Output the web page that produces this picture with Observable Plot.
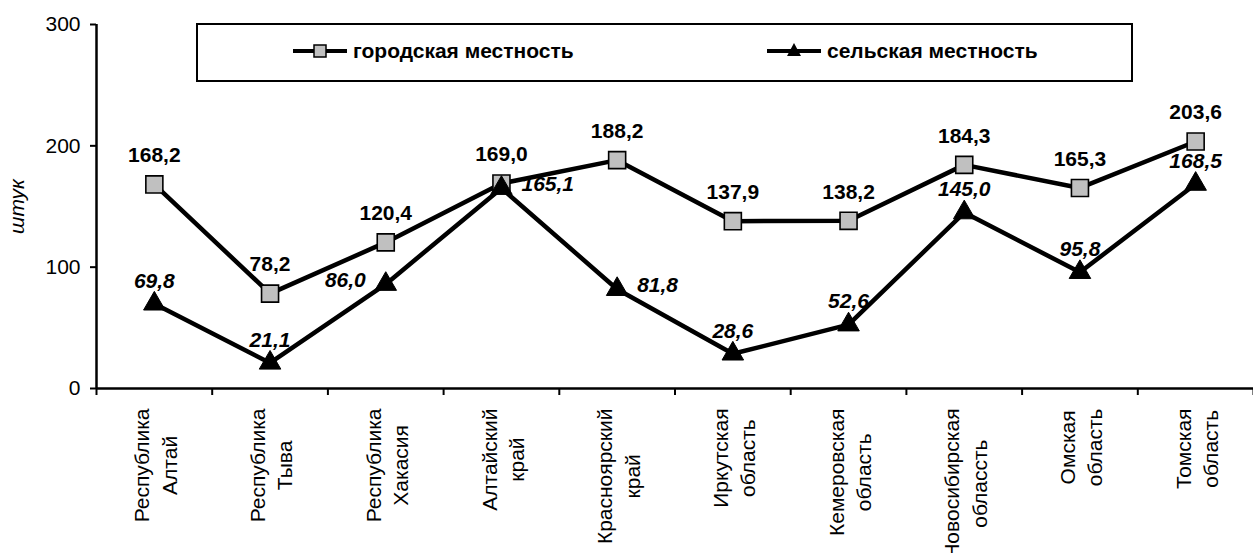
<!DOCTYPE html>
<html>
<head>
<meta charset="utf-8">
<script src="https://cdn.jsdelivr.net/npm/d3@7"></script>
<script src="https://cdn.jsdelivr.net/npm/@observablehq/plot@0.6"></script>
<style>
  html, body { margin: 0; padding: 0; background: #fff; }
  #wrap { position: relative; width: 1253px; height: 553px; overflow: hidden;
          font-family: "Liberation Sans", Arial, sans-serif; color: #000; }
  #legend { position: absolute; left: 196px; top: 23px; width: 937px; height: 59px;
            box-sizing: border-box; border: 2px solid #000; background: #fff; }
  .item { position: absolute; top: 0; height: 52px; display: flex; align-items: center; }
  .item svg { display: block; }
  .item span { font-weight: bold; font-size: 21px; margin-left: 6px; white-space: nowrap; }
</style>
</head>
<body>
<div id="wrap">
  <div id="chart"></div>
  <div id="legend"></div>
</div>
<script>
// ---- data ----
const categories = [
  "Республика\nАлтай",
  "Республика\nТыва",
  "Республика\nХакасия",
  "Алтайский\nкрай",
  "Красноярский\nкрай",
  "Иркутская\nобласть",
  "Кемеровская\nобласть",
  "Новосибирская\nоблассть",
  "Омская\nобласть",
  "Томская\nобласть"
];
const urban = [168.2, 78.2, 120.4, 169.0, 188.2, 137.9, 138.2, 184.3, 165.3, 203.6];
const rural = [69.8, 21.1, 86.0, 165.1, 81.8, 28.6, 52.6, 145.0, 95.8, 168.5];
const seriesNames = ["городская местность", "сельская местность"];
const yTicks = [0, 100, 200, 300];
const yLabel = "штук";
// where each rural value label sits relative to its marker
const ruralLabelPlacement = ["top", "top", "left", "right", "right", "top", "top", "top", "top", "top"];

// ---- build rows ----
const urbanData = categories.map((c, i) => ({i, cat: c, v: urban[i]}));
const ruralData = categories.map((c, i) => ({i, cat: c, v: rural[i], pos: ruralLabelPlacement[i]}));
const fmt = v => v.toFixed(1).replace(".", ",");
const xc = d => d.i + 0.5;
const FONT = "Liberation Sans, Arial, sans-serif";

const chart = Plot.plot({
  width: 1253,
  height: 553,
  marginLeft: 96,
  marginRight: 0,
  marginTop: 24,
  marginBottom: 165,
  style: {fontFamily: FONT, color: "#000", background: "#fff", overflow: "visible"},
  x: {type: "linear", domain: [0, categories.length]},
  y: {domain: [0, 300]},
  marks: [
    // axis lines
    Plot.ruleY([0], {stroke: "#000", strokeWidth: 2.5}),
    Plot.ruleX([0], {stroke: "#000", strokeWidth: 2.5}),
    // y axis
    Plot.axisY({
      ticks: yTicks, tickSize: 6, tickPadding: 10, fontSize: 21,
      strokeWidth: 2, label: yLabel, labelAnchor: "center", labelArrow: "none",
      labelOffset: 87, fontStyle: "italic"
    }),
    // x tick marks between categories
    Plot.axisX({
      ticks: d3.range(0, categories.length + 1), tickSize: 7, strokeWidth: 2,
      tickFormat: () => "", label: null
    }),
    // x category labels
    Plot.axisX({
      ticks: categories.map((c, i) => i + 0.5), tickSize: 0, tickPadding: 20,
      tickFormat: d => categories[Math.floor(d)], label: null,
      rotate: -90, textAnchor: "end", lineAnchor: "middle", lineHeight: 1.3,
      fontSize: 21
    }),
    // series lines
    Plot.line(urbanData, {x: xc, y: "v", stroke: "#000", strokeWidth: 4.5}),
    Plot.line(ruralData, {x: xc, y: "v", stroke: "#000", strokeWidth: 4.5}),
    // markers
    Plot.dot(urbanData, {x: xc, y: "v", symbol: "square", r: 9.6, fill: "#c0c0c0", stroke: "#000", strokeWidth: 1.6}),
    Plot.dot(ruralData, {x: xc, y: "v", symbol: "triangle", r: 8, fill: "#000", stroke: "#000", strokeWidth: 1}),
    // value labels
    Plot.text(urbanData, {x: xc, y: "v", text: d => fmt(d.v), dy: -29, fontSize: 21, fontWeight: "bold", fill: "#000"}),
    Plot.text(ruralData, {filter: d => d.pos === "top", x: xc, y: "v", text: d => fmt(d.v), dy: -23,
      fontSize: 21, fontWeight: "bold", fontStyle: "italic", fill: "#000"}),
    Plot.text(ruralData, {filter: d => d.pos === "left", x: xc, y: "v", text: d => fmt(d.v), dx: -20, dy: -4,
      textAnchor: "end", fontSize: 21, fontWeight: "bold", fontStyle: "italic", fill: "#000"}),
    Plot.text(ruralData, {filter: d => d.pos === "right", x: xc, y: "v", text: d => fmt(d.v), dx: 20, dy: -4,
      textAnchor: "start", fontSize: 21, fontWeight: "bold", fontStyle: "italic", fill: "#000"})
  ]
});
document.getElementById("chart").appendChild(chart);

// make the y-axis tick numbers upright (only the title is italic)
chart.querySelectorAll('g[aria-label="y-axis tick label"]').forEach(g => g.setAttribute("font-style", "normal"));

// center the two lines of each category label on each other (top-aligned block)
chart.querySelectorAll('g[aria-label="x-axis tick label"] text').forEach(t => {
  const spans = t.querySelectorAll("tspan");
  if (!spans.length) return;
  let maxLen = 0;
  spans.forEach(s => { maxLen = Math.max(maxLen, s.getComputedTextLength()); });
  t.setAttribute("text-anchor", "middle");
  spans.forEach(s => s.setAttribute("x", -maxLen / 2));
});

// ---- legend ----
const legend = document.getElementById("legend");
function legendItem(left, name, kind) {
  const div = document.createElement("div");
  div.className = "item";
  div.style.left = left + "px";
  const ns = "http://www.w3.org/2000/svg";
  const svg = document.createElementNS(ns, "svg");
  svg.setAttribute("width", 54); svg.setAttribute("height", 24);
  const line = document.createElementNS(ns, "line");
  line.setAttribute("x1", 0); line.setAttribute("x2", 54);
  line.setAttribute("y1", 12); line.setAttribute("y2", 12);
  line.setAttribute("stroke", "#000"); line.setAttribute("stroke-width", 4);
  svg.appendChild(line);
  if (kind === "square") {
    const r = document.createElementNS(ns, "rect");
    r.setAttribute("x", 21); r.setAttribute("y", 6); r.setAttribute("width", 12); r.setAttribute("height", 12);
    r.setAttribute("fill", "#c0c0c0"); r.setAttribute("stroke", "#000"); r.setAttribute("stroke-width", 1.5);
    svg.appendChild(r);
  } else {
    const p = document.createElementNS(ns, "polygon");
    p.setAttribute("points", "27,4 34,17 20,17");
    p.setAttribute("fill", "#000");
    svg.appendChild(p);
  }
  div.appendChild(svg);
  const span = document.createElement("span");
  span.textContent = name;
  div.appendChild(span);
  legend.appendChild(div);
}
legendItem(95, seriesNames[0], "square");
legendItem(569, seriesNames[1], "triangle");
</script>
</body>
</html>
